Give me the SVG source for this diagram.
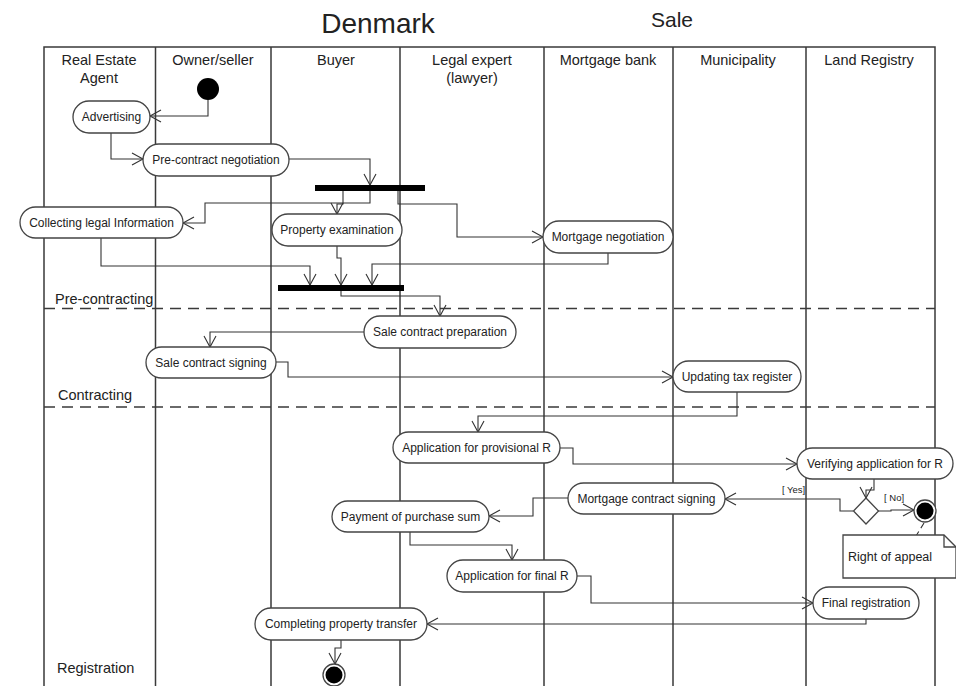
<svg xmlns="http://www.w3.org/2000/svg" width="956" height="686" viewBox="0 0 956 686">
<style>
text{font-family:"Liberation Sans",Arial,sans-serif;fill:#222}
.title{font-size:28px;text-anchor:middle}
.sub{font-size:21px;text-anchor:middle}
.hdr{font-size:14.5px;text-anchor:middle}
.phase{font-size:14.5px}
.lane{stroke:#3a3a3a;stroke-width:1.5;fill:none}
.sep{stroke:#3a3a3a;stroke-width:1.3;stroke-dasharray:11,7;fill:none}
.act rect{fill:#fff;stroke:#444;stroke-width:1.3}
.act text{font-size:12px;text-anchor:middle}
.bar{fill:#000}
.conn path{fill:none;stroke:#333;stroke-width:1.1;marker-end:url(#arr)}
.guard{font-size:9.5px}
</style>
<defs>
<marker id="arr" markerUnits="userSpaceOnUse" markerWidth="13" markerHeight="14" refX="11" refY="6" orient="auto" overflow="visible">
<path d="M0,0 L11,6 L0,12" fill="none" stroke="#333" stroke-width="1.1"/>
</marker>
</defs>
<rect width="956" height="686" fill="#fff"/>
<text class="title" x="378" y="33">Denmark</text>
<text class="sub" x="672" y="27">Sale</text>
<g id="lanes">
<path class="lane" d="M44,686 V47 H935 V686 M155.5,47 V686 M271,47 V686 M400,47 V686 M544,47 V686 M673,47 V686 M806,47 V686"/>
<text class="hdr" x="99" y="65">Real Estate</text>
<text class="hdr" x="99" y="83">Agent</text>
<text class="hdr" x="213" y="65">Owner/seller</text>
<text class="hdr" x="336" y="65">Buyer</text>
<text class="hdr" x="472" y="65">Legal expert</text>
<text class="hdr" x="472" y="83">(lawyer)</text>
<text class="hdr" x="608" y="65">Mortgage bank</text>
<text class="hdr" x="738" y="65">Municipality</text>
<text class="hdr" x="869" y="65">Land Registry</text>
</g>
<g id="phases">
<path class="sep" d="M44,308.5 H935 M44,407 H935"/>
<text class="phase" x="55" y="304">Pre-contracting</text>
<text class="phase" x="58" y="400">Contracting</text>
<text class="phase" x="57" y="673">Registration</text>
</g>
<g id="connectors" class="conn">
<path d="M208,100 V116 H150"/>
<path d="M111,133 V159 H143"/>
<path d="M289,159 H370 V185"/>
<path d="M370,191 V203 H205 V223 H183"/>
<path d="M343,191 V204 H337 V214"/>
<path d="M398,191 V204 H457 V237 H543"/>
<path d="M101,238 V266 H310 V285"/>
<path d="M337,246 V258 H341 V285"/>
<path d="M608,253 V264 H372 V285"/>
<path d="M341,291 V296 H440 V316"/>
<path d="M364,332 H210 V347"/>
<path d="M276,362 H288 V377 H673"/>
<path d="M737,392 V416 H478 V432"/>
<path d="M560,448 H573 V464 H797"/>
<path d="M874,479 V490 H866 V498"/>
<path d="M853,511 H840 V499 H725"/>
<path d="M878,511 H891 V510 H914"/>
<path d="M568,498 H533 V516 H489"/>
<path d="M410,532 V545 H512 V560"/>
<path d="M577,576 H591 V603 H813"/>
<path d="M866,619 V624 H427"/>
<path d="M341,640 V648 H335 V664"/>
<path d="M924,523 L916,536" style="marker-end:none;stroke-dasharray:6,4"/>
</g>
<text class="guard" x="782" y="493">[ Yes]</text>
<text class="guard" x="884" y="501">[ No]</text>
<g id="start"><circle cx="208" cy="89" r="11" fill="#000"/></g>
<g id="advertising" class="act"><rect x="73" y="101" width="77" height="32" rx="16"/><text x="111.5" y="121">Advertising</text></g>
<g id="precontract" class="act"><rect x="143" y="144" width="146" height="32" rx="16"/><text x="216" y="164">Pre-contract negotiation</text></g>
<g id="fork1"><rect class="bar" x="315" y="185" width="110" height="6"/></g>
<g id="collecting" class="act"><rect x="20" y="207" width="163" height="31" rx="15.5"/><text x="101.5" y="227">Collecting legal Information</text></g>
<g id="property" class="act"><rect x="272" y="214" width="130" height="32" rx="16"/><text x="337" y="234">Property examination</text></g>
<g id="mortgageneg" class="act"><rect x="543" y="221" width="130" height="32" rx="16"/><text x="608" y="241">Mortgage negotiation</text></g>
<g id="join1"><rect class="bar" x="278" y="285" width="126" height="6"/></g>
<g id="saleprep" class="act"><rect x="364" y="316" width="152" height="32" rx="16"/><text x="440" y="336">Sale contract preparation</text></g>
<g id="salesign" class="act"><rect x="146" y="347" width="130" height="31" rx="15.5"/><text x="211" y="367">Sale contract signing</text></g>
<g id="taxreg" class="act"><rect x="673" y="361" width="128" height="31" rx="15.5"/><text x="737" y="381">Updating tax register</text></g>
<g id="appprov" class="act"><rect x="393" y="432" width="167" height="31" rx="15.5"/><text x="476.5" y="452">Application for provisional R</text></g>
<g id="verifying" class="act"><rect x="797" y="448" width="156" height="31" rx="15.5"/><text x="875" y="468">Verifying application for R</text></g>
<g id="decision"><path d="M866,498 L878.5,511 L866,524 L853.5,511 Z" fill="#fff" stroke="#444" stroke-width="1.3"/></g>
<g id="end1"><circle cx="925" cy="511" r="11" fill="#fff" stroke="#444" stroke-width="1.3"/><circle cx="925" cy="511" r="8.5" fill="#000"/></g>
<g id="appeal"><path d="M843,535 H944 L956,547 V578 H843 Z" fill="#fff" stroke="#444" stroke-width="1.3"/><path d="M944,535 V547 H956" fill="none" stroke="#444" stroke-width="1.3"/><text x="848" y="561" style="font-size:12.5px">Right of appeal</text></g>
<g id="mortgagesign" class="act"><rect x="568" y="483" width="157" height="31" rx="15.5"/><text x="646.5" y="503">Mortgage contract signing</text></g>
<g id="payment" class="act"><rect x="332" y="501" width="157" height="31" rx="15.5"/><text x="410.5" y="521">Payment of purchase sum</text></g>
<g id="appfinal" class="act"><rect x="447" y="560" width="130" height="32" rx="16"/><text x="512" y="580">Application for final R</text></g>
<g id="finalreg" class="act"><rect x="813" y="587" width="106" height="32" rx="16"/><text x="866" y="607">Final registration</text></g>
<g id="completing" class="act"><rect x="255" y="608" width="172" height="32" rx="16"/><text x="341" y="628">Completing property transfer</text></g>
<g id="end2"><circle cx="334" cy="675" r="11" fill="#fff" stroke="#444" stroke-width="1.3"/><circle cx="334" cy="675" r="8.5" fill="#000"/></g>
</svg>
